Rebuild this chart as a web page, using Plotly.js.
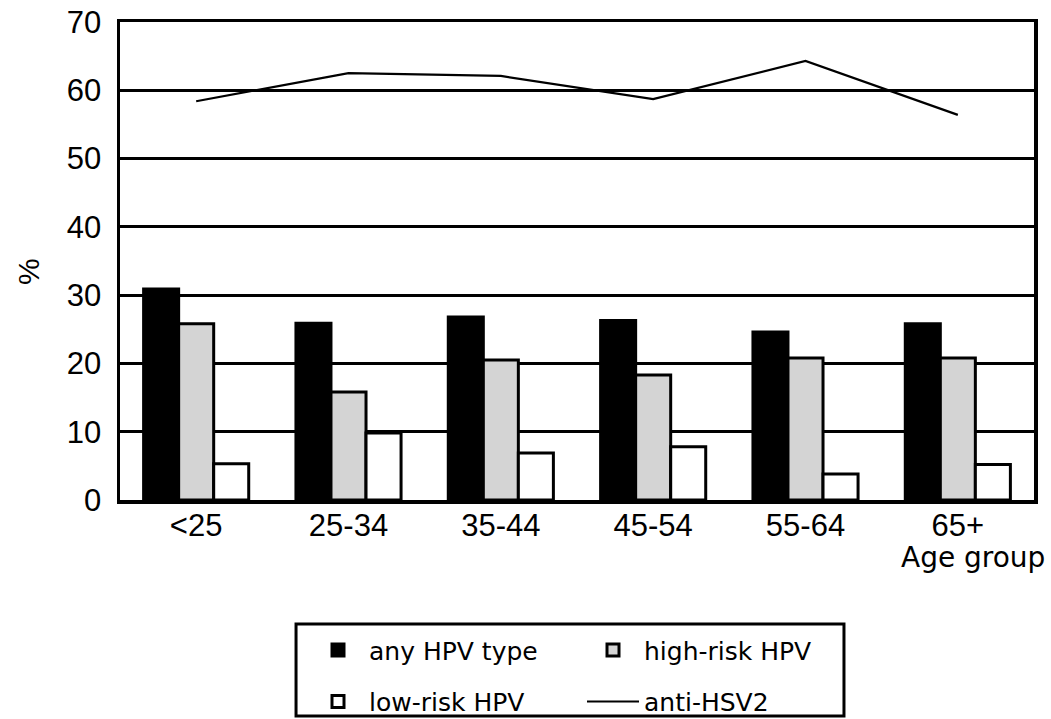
<!DOCTYPE html>
<html>
<head>
<meta charset="utf-8">
<script src="https://cdn.plot.ly/plotly-3.0.1.min.js"></script>
<style>
  html, body { margin: 0; padding: 0; background: #ffffff; }
  #chart { width: 1051px; height: 719px; }
</style>
</head>
<body>
<div id="chart"></div>
<script>
// Data
const ageGroups = ['<25', '25-34', '35-44', '45-54', '55-64', '65+'];
const anyHPV = [30.9, 25.9, 26.8, 26.3, 24.6, 25.8];
const highRiskHPV = [25.8, 15.8, 20.5, 18.3, 20.8, 20.8];
const lowRiskHPV = [5.3, 9.8, 6.9, 7.8, 3.8, 5.2];
const antiHSV2 = [58.4, 62.5, 62.1, 58.7, 64.3, 56.4];
const yTicks = [0, 10, 20, 30, 40, 50, 60, 70];

const TICKFONT = 'Liberation Sans, Arial, Helvetica, sans-serif';
const WIDEFONT = 'DejaVu Sans, Liberation Sans, Arial, sans-serif';
const outline = { color: '#000000', width: 3 };

const traces = [
  { type: 'bar', name: 'any HPV type', x: ageGroups, y: anyHPV,
    marker: { color: '#000000', line: outline }, legend: 'legend' },
  { type: 'bar', name: 'high-risk HPV', x: ageGroups, y: highRiskHPV,
    marker: { color: '#d4d4d4', line: outline }, legend: 'legend' },
  { type: 'bar', name: 'low-risk HPV', x: ageGroups, y: lowRiskHPV,
    marker: { color: '#ffffff', line: outline }, legend: 'legend2' },
  { type: 'scatter', mode: 'lines', name: 'anti-HSV2', x: ageGroups, y: antiHSV2,
    line: { color: '#000000', width: 2.2 }, legend: 'legend2' }
];

const legendCommon = {
  orientation: 'h', xanchor: 'left', yanchor: 'top',
  x: 0.2046, entrywidth: 208, itemwidth: 52,
  bgcolor: 'rgba(0,0,0,0)', borderwidth: 0,
  font: { family: WIDEFONT, size: 25, color: '#000000' },
  valign: 'middle', traceorder: 'normal'
};

const layout = {
  width: 1051, height: 719,
  margin: { l: 120, r: 17, t: 22, b: 219, autoexpand: false },
  paper_bgcolor: '#ffffff', plot_bgcolor: '#ffffff',
  font: { family: TICKFONT, color: '#000000', size: 31 },
  barmode: 'group', bargap: 0.31, bargroupgap: 0,
  showlegend: true,
  legend: Object.assign({}, legendCommon, { y: -0.266 }),
  legend2: Object.assign({}, legendCommon, { y: -0.374 }),
  xaxis: {
    type: 'category', showline: true, mirror: true, linecolor: '#000000', linewidth: 3.5,
    showgrid: false, ticks: '', ticklabelstandoff: -5,
    tickfont: { family: TICKFONT, size: 31, color: '#000000' },
    automargin: false, fixedrange: true
  },
  yaxis: {
    range: [0, 70], tickvals: yTicks, ticktext: yTicks.map(String),
    showline: true, mirror: true, linecolor: '#000000', linewidth: 3.5,
    showgrid: true, gridcolor: '#000000', gridwidth: 3, zeroline: false,
    ticks: '', ticklabelstandoff: 9,
    tickfont: { family: TICKFONT, size: 31, color: '#000000' },
    automargin: false, fixedrange: true
  },
  annotations: [
    { text: '%', xref: 'paper', yref: 'paper', x: -0.1007, y: 0.479,
      xanchor: 'center', yanchor: 'middle', textangle: -90, showarrow: false,
      font: { family: TICKFONT, size: 30, color: '#000000' } },
    { text: 'Age group', xref: 'paper', yref: 'paper', x: 1.0142, y: -0.121,
      xanchor: 'right', yanchor: 'middle', showarrow: false,
      font: { family: WIDEFONT, size: 28, color: '#000000' } }
  ],
  shapes: [
    { type: 'rect', xref: 'paper', yref: 'paper', x0: 0.1926, x1: 0.7921, y0: -0.452, y1: -0.2594,
      line: { color: '#000000', width: 3 }, fillcolor: 'rgba(0,0,0,0)', layer: 'above' }
  ],
  hovermode: false
};

Plotly.newPlot('chart', traces, layout, { staticPlot: true, displayModeBar: false });
</script>
</body>
</html>
